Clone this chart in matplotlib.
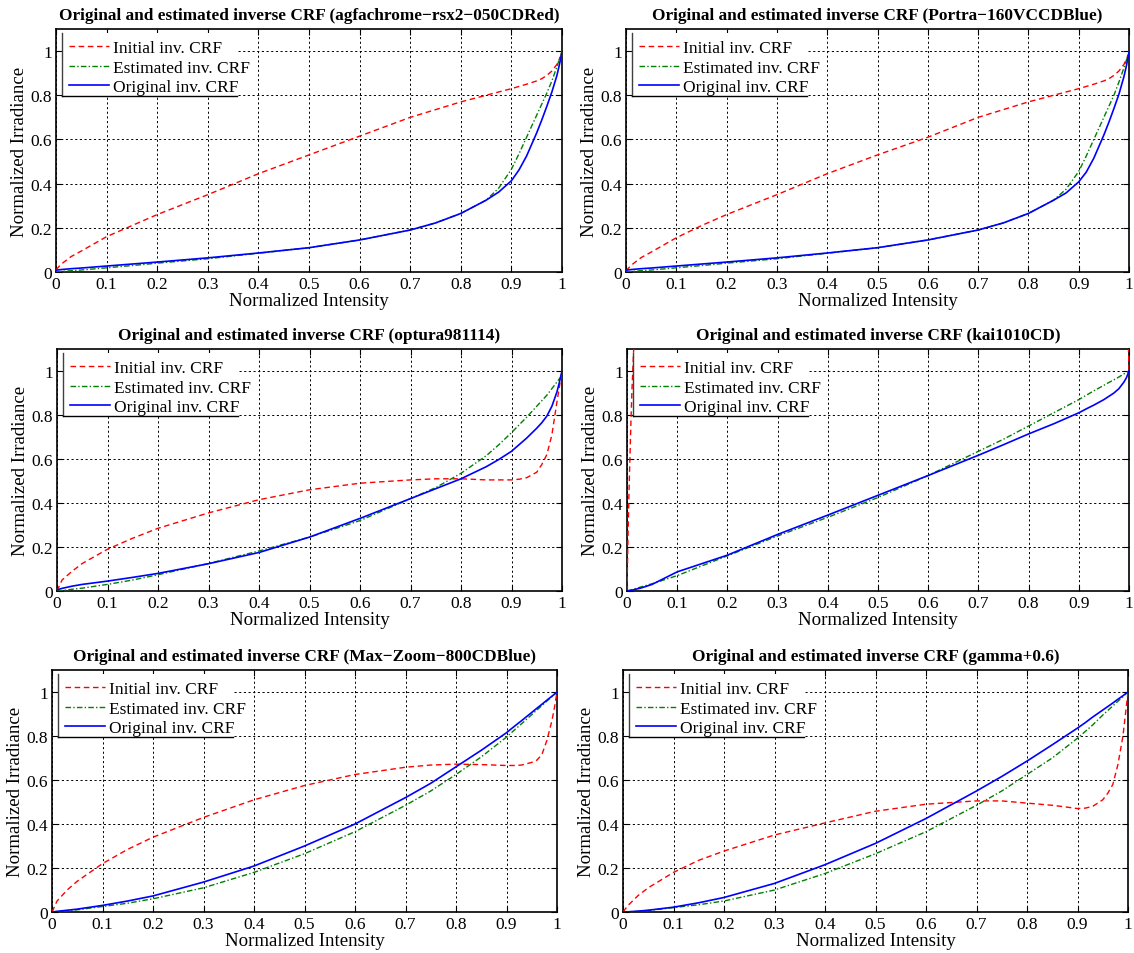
import numpy as np
import matplotlib
matplotlib.use("Agg")
import matplotlib.pyplot as plt
from matplotlib.patches import Rectangle
from matplotlib.lines import Line2D

plt.rcParams['font.family'] = ['Liberation Serif', 'DejaVu Serif']

# Sample positions (normalized intensity) shared by most curves
intensity = [0.0, 0.01, 0.03, 0.05, 0.1, 0.15, 0.2, 0.3, 0.4, 0.5, 0.6, 0.7, 0.75,
             0.8, 0.85, 0.875, 0.9, 0.915, 0.93, 0.95, 0.96, 0.97, 0.98, 0.99, 0.995, 1.0]

# agfachrome-rsx2-050CDRed
agfa_initial = [0.01, 0.035, 0.07, 0.095, 0.16, 0.21, 0.26, 0.35, 0.445, 0.53, 0.615, 0.70, 0.735,
                0.77, 0.80, 0.815, 0.83, 0.84, 0.85, 0.865, 0.875, 0.89, 0.91, 0.94, 0.965, 0.99]
agfa_estimated = [0.0, 0.002, 0.006, 0.009, 0.019, 0.029, 0.04, 0.06, 0.085, 0.11, 0.145, 0.19, 0.222,
                  0.265, 0.325, 0.38, 0.465, 0.535, 0.61, 0.71, 0.76, 0.81, 0.865, 0.93, 0.965, 1.0]
agfa_original = [0.008, 0.011, 0.015, 0.018, 0.027, 0.036, 0.045, 0.064, 0.086, 0.11, 0.145, 0.19, 0.222,
                 0.265, 0.325, 0.362, 0.413, 0.462, 0.525, 0.63, 0.688, 0.75, 0.815, 0.89, 0.94, 0.995]

# Portra-160VCCDBlue
portra_initial = [0.005, 0.03, 0.065, 0.09, 0.155, 0.21, 0.26, 0.35, 0.445, 0.53, 0.61, 0.70, 0.735,
                  0.77, 0.80, 0.815, 0.83, 0.84, 0.85, 0.865, 0.875, 0.89, 0.91, 0.94, 0.965, 0.99]
portra_estimated = [0.0, 0.002, 0.006, 0.009, 0.019, 0.029, 0.04, 0.06, 0.085, 0.11, 0.145, 0.19, 0.222,
                    0.265, 0.325, 0.375, 0.455, 0.525, 0.6, 0.7, 0.75, 0.8, 0.86, 0.925, 0.96, 1.0]
portra_original = [0.008, 0.011, 0.015, 0.018, 0.027, 0.036, 0.045, 0.064, 0.086, 0.11, 0.145, 0.19, 0.222,
                   0.265, 0.325, 0.358, 0.408, 0.452, 0.515, 0.62, 0.678, 0.74, 0.805, 0.885, 0.935, 0.995]

# optura981114
optura_initial = [0.0, 0.05, 0.09, 0.125, 0.19, 0.24, 0.285, 0.355, 0.415, 0.46, 0.49, 0.505, 0.51,
                  0.51, 0.505, 0.505, 0.505, 0.508, 0.515, 0.54, 0.575, 0.62, 0.71, 0.86, 0.93, 1.0]
optura_estimated = [0.0, 0.002, 0.008, 0.013, 0.03, 0.05, 0.074, 0.125, 0.182, 0.245, 0.32, 0.42, 0.47,
                    0.535, 0.615, 0.665, 0.72, 0.755, 0.79, 0.84, 0.865, 0.89, 0.92, 0.95, 0.965, 0.98]
optura_original = [0.005, 0.012, 0.022, 0.03, 0.045, 0.062, 0.08, 0.124, 0.175, 0.245, 0.33, 0.42, 0.465,
                   0.51, 0.565, 0.598, 0.635, 0.665, 0.695, 0.74, 0.765, 0.795, 0.84, 0.905, 0.95, 1.0]

# kai1010CD (initial curve shoots off the top of the axes near both ends)
kai_initial_x = [0.0, 0.002, 0.004, 0.006, 0.008, 0.010, 0.013, 0.02, 0.5, 0.99, 0.998, 1.0]
kai_initial = [0.0, 0.25, 0.45, 0.62, 0.78, 0.92, 1.08, 1.5, 3.0, 1.5, 1.2, 1.0]
kai_estimated = [0.0, 0.006, 0.02, 0.033, 0.07, 0.115, 0.16, 0.25, 0.335, 0.425, 0.525, 0.635, 0.69,
                 0.75, 0.81, 0.84, 0.87, 0.89, 0.91, 0.935, 0.948, 0.96, 0.973, 0.987, 0.993, 1.0]
kai_original = [0.0, 0.004, 0.015, 0.03, 0.087, 0.125, 0.163, 0.257, 0.345, 0.435, 0.525, 0.617, 0.665,
                0.714, 0.76, 0.785, 0.81, 0.828, 0.845, 0.87, 0.885, 0.9, 0.92, 0.95, 0.97, 1.0]

# Max-Zoom-800CDBlue
maxzoom_initial = [0.0, 0.05, 0.1, 0.14, 0.22, 0.285, 0.34, 0.43, 0.51, 0.575, 0.625, 0.658, 0.668,
                   0.672, 0.67, 0.668, 0.666, 0.666, 0.668, 0.68, 0.69, 0.715, 0.78, 0.87, 0.93, 1.0]
maxzoom_estimated = [0.0, 0.002, 0.006, 0.01, 0.025, 0.04, 0.06, 0.11, 0.18, 0.265, 0.365, 0.485, 0.55,
                     0.625, 0.705, 0.75, 0.795, 0.826, 0.856, 0.897, 0.918, 0.938, 0.959, 0.979, 0.99, 1.0]
maxzoom_original = [0.0, 0.003, 0.008, 0.013, 0.03, 0.05, 0.073, 0.136, 0.209, 0.30, 0.40, 0.52, 0.585,
                    0.66, 0.735, 0.775, 0.815, 0.843, 0.87, 0.907, 0.926, 0.944, 0.963, 0.981, 0.99, 1.0]

# gamma+0.6
gamma_initial = [0.0, 0.03, 0.075, 0.11, 0.18, 0.235, 0.277, 0.35, 0.405, 0.458, 0.49, 0.505, 0.505,
                 0.495, 0.485, 0.478, 0.47, 0.472, 0.48, 0.51, 0.54, 0.58, 0.67, 0.8, 0.9, 1.0]
gamma_estimated = [0.0, 0.0, 0.003, 0.007, 0.02, 0.033, 0.05, 0.10, 0.175, 0.265, 0.365, 0.485, 0.55,
                   0.625, 0.70, 0.745, 0.79, 0.82, 0.85, 0.895, 0.916, 0.937, 0.958, 0.979, 0.99, 1.0]
gamma_original = [0.0, 0.001, 0.004, 0.008, 0.022, 0.042, 0.066, 0.13, 0.215, 0.312, 0.425, 0.55, 0.616,
                  0.686, 0.76, 0.798, 0.836, 0.86, 0.886, 0.918, 0.934, 0.95, 0.967, 0.983, 0.992, 1.0]

names = ["agfachrome\u2212rsx2\u2212050CDRed", "Portra\u2212160VCCDBlue", "optura981114",
         "kai1010CD", "Max\u2212Zoom\u2212800CDBlue", "gamma+0.6"]
initial_x = [intensity, intensity, intensity, kai_initial_x, intensity, intensity]
initial_y = [agfa_initial, portra_initial, optura_initial, kai_initial, maxzoom_initial, gamma_initial]
estimated_y = [agfa_estimated, portra_estimated, optura_estimated, kai_estimated,
               maxzoom_estimated, gamma_estimated]
original_y = [agfa_original, portra_original, optura_original, kai_original,
              maxzoom_original, gamma_original]

legend_labels = ["Initial inv. CRF", "Estimated inv. CRF", "Original inv. CRF"]
x_ticks = [0, 0.1, 0.2, 0.3, 0.4, 0.5, 0.6, 0.7, 0.8, 0.9, 1]
x_tick_labels = ["0", "0.1", "0.2", "0.3", "0.4", "0.5", "0.6", "0.7", "0.8", "0.9", "1"]
y_ticks = [0, 0.2, 0.4, 0.6, 0.8, 1]
y_tick_labels = ["0", "0.2", "0.4", "0.6", "0.8", "1"]

W, H = 1134, 954
fig = plt.figure(figsize=(W / 100, H / 100), dpi=100)

# axes boxes in pixels: left, top, right, bottom
boxes = [(56, 30, 562, 273), (626, 30, 1129, 273),
         (57, 350, 562, 592), (627, 350, 1129, 592),
         (52, 671, 557, 913), (623, 671, 1128, 913)]

RED = (1, 0, 0)
GREEN = (0, 0.5, 0)
BLUE = (0, 0, 1)

for i, (l, t, r, b) in enumerate(boxes):
    ax = fig.add_axes([l / W, 1 - b / H, (r - l) / W, (b - t) / H])
    aw, ah = r - l, b - t
    ax.set_axisbelow(True)
    ax.plot(initial_x[i], initial_y[i], color=RED, lw=1.0, ls=(0, (4, 2.6)),
            label=legend_labels[0], zorder=3)
    ax.plot(intensity, estimated_y[i], color=GREEN, lw=1.0, ls=(0, (4, 1.6, 1, 1.6)),
            label=legend_labels[1], zorder=3)
    ax.plot(intensity, original_y[i], color=BLUE, lw=1.2, ls='-',
            label=legend_labels[2], zorder=4)
    ax.set_xlim(0, 1)
    ax.set_ylim(0, 1.1)
    ax.set_xticks(x_ticks)
    ax.set_xticklabels(x_tick_labels)
    ax.set_yticks(y_ticks)
    ax.set_yticklabels(y_tick_labels)
    ax.grid(True, color='black', lw=0.7, ls=(0, (2.2, 2.6)))
    ax.tick_params(direction='in', top=True, right=True, length=4, width=0.8,
                   labelsize=12.5, pad=3)
    for sp in ax.spines.values():
        sp.set_linewidth(1.2)
    ax.set_title("Original and estimated inverse CRF (%s)" % names[i],
                 fontsize=12.4, fontweight='bold', pad=7)
    ax.set_xlabel("Normalized Intensity", fontsize=13.6, labelpad=0)
    ax.set_ylabel("Normalized Irradiance", fontsize=13.6, labelpad=1.5)

    # white legend panel with a left/bottom edge
    x0, x1 = 6 / aw, 181 / aw
    y1, y0 = 1 - 4 / ah, 1 - 67 / ah
    ax.add_patch(Rectangle((x0, y0), x1 - x0, y1 - y0, transform=ax.transAxes,
                           facecolor='white', edgecolor='none', zorder=2))
    ax.add_line(Line2D([x0, x0], [y0, y1], transform=ax.transAxes, color='0.25',
                       lw=1.0, zorder=5))
    ax.add_line(Line2D([x0, x1], [y0, y0], transform=ax.transAxes, color='black',
                       lw=1.0, zorder=5))
    leg = ax.legend(loc='upper left', bbox_to_anchor=(13 / aw, 1 - 11 / ah),
                    frameon=False, borderpad=0, borderaxespad=0, fontsize=12.5,
                    handlelength=2.3, handletextpad=0.25, labelspacing=0.2)
    leg.set_zorder(7)

fig.savefig("out.png", dpi=100)
